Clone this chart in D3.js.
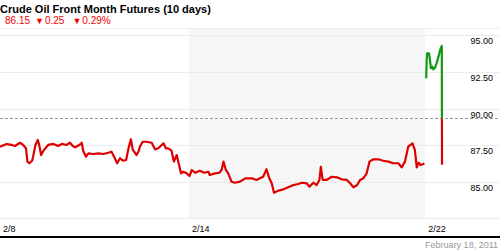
<!DOCTYPE html>
<html>
<head>
<meta charset="utf-8">
<script src="https://cdn.jsdelivr.net/npm/d3@7"></script>
<style>
  body { margin: 0; background: #fff; }
  svg text { font-family: Arial, "Liberation Sans", sans-serif; }
</style>
</head>
<body>
<div id="chart"></div>
<script>
// --- data: time is in trading days from the 2/8 open ---
const weekTimes = [0.00, 0.14, 0.25, 0.32, 0.42, 0.49, 0.55, 0.58, 0.62, 0.68, 0.70, 0.75, 0.80, 0.83, 0.87, 0.92,
    1.02, 1.13, 1.23, 1.31, 1.41, 1.48, 1.54, 1.59, 1.68, 1.73, 1.76, 1.82, 1.87, 1.97,
    2.08, 2.19, 2.29, 2.36, 2.43, 2.48, 2.54, 2.61, 2.67, 2.72, 2.77, 2.81, 2.84, 2.89, 2.93, 2.96,
    3.02, 3.10, 3.21, 3.28, 3.35, 3.46, 3.51, 3.56, 3.63, 3.68, 3.74, 3.79, 3.83, 3.88, 3.95,
    4.01, 4.06, 4.13, 4.23, 4.32, 4.41, 4.44, 4.55, 4.64, 4.69, 4.73, 4.78, 4.83, 4.90, 4.97,
    5.08, 5.19, 5.33, 5.43, 5.50, 5.57, 5.64, 5.70, 5.75, 5.80, 5.89,
    6.00, 6.10, 6.21, 6.31, 6.39, 6.49, 6.55, 6.63, 6.70, 6.76, 6.79, 6.83, 6.91,
    7.02, 7.13, 7.23, 7.34, 7.41, 7.48, 7.56, 7.62, 7.69, 7.76, 7.82, 7.90,
    8.01, 8.11, 8.22, 8.32, 8.43, 8.50, 8.57, 8.64, 8.73, 8.78, 8.82, 8.86, 8.90, 8.96, 8.98];
const weekPrices = [87.39, 87.57, 87.51, 87.44, 87.66, 87.51, 87.28, 86.37, 86.26, 86.43, 86.71, 87.51, 87.85, 87.51, 86.82, 87.12,
    87.51, 87.58, 87.44, 87.58, 87.51, 87.66, 87.44, 87.35, 87.51, 87.66, 87.12, 86.71, 86.94, 86.89,
    86.94, 86.89, 86.98, 87.05, 86.60, 86.26, 86.60, 86.43, 86.48, 87.28, 87.90, 87.17, 87.05, 86.82, 87.05, 87.39,
    87.73, 87.73, 87.66, 87.21, 87.28, 87.62, 87.28, 87.28, 87.12, 86.37, 86.82, 86.14, 85.57, 85.68, 85.57,
    85.39, 85.80, 85.61, 85.75, 85.61, 85.68, 85.46, 85.57, 85.61, 85.80, 86.37, 85.80, 85.57, 85.00, 84.93,
    85.00, 85.23, 85.23, 85.12, 85.23, 85.34, 85.85, 85.23, 84.89, 84.25, 84.39,
    84.48, 84.62, 84.77, 84.84, 84.93, 84.89, 84.66, 84.93, 84.77, 85.12, 86.02, 85.12, 85.12,
    85.34, 85.30, 85.16, 85.12, 84.89, 84.62, 84.77, 85.12, 85.23, 85.57, 86.37, 86.53,
    86.53, 86.43, 86.37, 86.26, 86.26, 85.98, 86.37, 87.39, 87.62, 87.17, 85.98, 86.30, 86.14, 86.21, 86.26];
const lastDayTimes = [9.02, 9.03, 9.04, 9.08, 9.10, 9.12, 9.15, 9.17, 9.21, 9.24, 9.28, 9.31, 9.35, 9.355];
const lastDayPrices = [92.06, 93.31, 93.77, 93.77, 93.31, 92.75, 92.86, 92.68, 92.81, 93.09, 93.54, 93.95, 94.27, 86.15];

const refPrice = 89.32;               // dashed reference level
const priceTicks = [82.5, 85, 87.5, 90, 92.5, 95];
const labelTicks = [85, 87.5, 90, 92.5, 95];
const dayTicks = [0, 4, 9];
const dayLabels = ["2/8", "2/14", "2/22"];
const shadedDays = [4, 9];            // the 2/14 week

const width = 500, height = 250;
const svg = d3.select("#chart").append("svg")
    .attr("width", width)
    .attr("height", height);

const x = d3.scaleLinear().domain([0, 10]).range([0, 472.5]);
const y = d3.scaleLinear().domain([82.5, 95]).range([218.3, 35.3]);

// --- header ---
svg.append("text")
    .attr("x", 0).attr("y", 13)
    .style("font-size", "11px").style("font-weight", "bold")
    .text("Crude Oil Front Month Futures (10 days)");

const quote = svg.append("text")
    .attr("x", 5).attr("y", 24)
    .style("font-size", "10px")
    .attr("fill", "#ee0000");
quote.append("tspan").text("86.15");
quote.append("tspan").attr("dx", 5).text("\u25BC").style("font-size", "9px");
quote.append("tspan").attr("dx", 1).text("0.25");
quote.append("tspan").attr("dx", 8).text("\u25BC").style("font-size", "9px");
quote.append("tspan").attr("dx", 1).text("0.29%");

svg.append("line")
    .attr("x1", 0).attr("x2", width)
    .attr("y1", 28.5).attr("y2", 28.5)
    .attr("stroke", "#eeeeee");

// shaded week
svg.append("rect")
    .attr("x", x(shadedDays[0]))
    .attr("y", 29)
    .attr("width", x(shadedDays[1]) - x(shadedDays[0]))
    .attr("height", y(82.5) - 29)
    .attr("fill", "#f6f6f6");

// gridlines
svg.append("g").selectAll("line")
    .data(priceTicks)
    .enter()
    .append("line")
    .attr("x1", 0).attr("x2", width)
    .attr("y1", d => Math.round(y(d)) + 0.5)
    .attr("y2", d => Math.round(y(d)) + 0.5)
    .attr("stroke", "#ececec");

// price labels (right side, below each gridline)
svg.append("g").selectAll("text")
    .data(labelTicks)
    .enter()
    .append("text")
    .attr("x", 493)
    .attr("y", d => y(d) + 9)
    .attr("text-anchor", "end")
    .style("font-size", "9px")
    .text(d => d3.format(".2f")(d));

// reference line
svg.append("line")
    .attr("x1", 0).attr("x2", width)
    .attr("y1", Math.round(y(refPrice)) + 0.5)
    .attr("y2", Math.round(y(refPrice)) + 0.5)
    .attr("stroke", "#999")
    .attr("stroke-dasharray", "3,2");

// --- price line, green above the reference, red below ---
const segments = [
    d3.zip(weekTimes, weekPrices),
    d3.zip(lastDayTimes, lastDayPrices)
];
const line = d3.line()
    .x(d => x(d[0]))
    .y(d => y(d[1]));

const refY = y(refPrice);
const defs = svg.append("defs");
defs.append("clipPath").attr("id", "above")
    .append("rect").attr("x", 0).attr("y", 0).attr("width", width).attr("height", refY);
defs.append("clipPath").attr("id", "below")
    .append("rect").attr("x", 0).attr("y", refY).attr("width", width).attr("height", height - refY);

[["above", "#119911"], ["below", "#dd0000"]].forEach(([clip, color]) => {
    svg.append("g")
        .attr("clip-path", `url(#${clip})`)
        .selectAll("path")
        .data(segments)
        .enter()
        .append("path")
        .attr("d", line)
        .attr("fill", "none")
        .attr("stroke", color)
        .attr("stroke-width", 2.2)
        .attr("stroke-linejoin", "round");
});

// --- x axis ---
svg.append("g").selectAll("text")
    .data(dayTicks)
    .enter()
    .append("text")
    .attr("x", d => x(d) + 3)
    .attr("y", 232)
    .style("font-size", "9px")
    .text((d, i) => dayLabels[i]);

svg.append("line")
    .attr("x1", 0).attr("x2", width)
    .attr("y1", 237).attr("y2", 237)
    .attr("stroke", "#000")
    .attr("stroke-width", 2);

svg.append("text")
    .attr("x", 498).attr("y", 248)
    .attr("text-anchor", "end")
    .attr("fill", "#999")
    .style("font-size", "9px")
    .text("February 18, 2011");
</script>
</body>
</html>
